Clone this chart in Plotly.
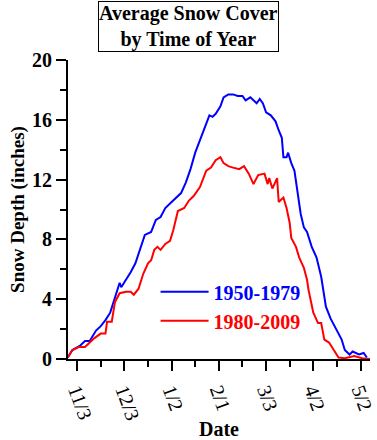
import plotly.graph_objects as go

# Days counted from Nov 3
blue_days = [-6, -3, 2, 5, 8, 12, 15, 18, 21, 24, 27, 28, 31, 34, 37, 40, 43, 47, 50, 53, 56, 59, 63, 66, 69, 72, 75, 78,
             82, 84, 86, 88, 91, 93, 96, 99, 102, 105, 107, 110, 114, 116, 118, 120, 123, 126, 128, 130, 131, 133, 134,
             136, 138, 139, 140, 142, 144, 146, 149, 152, 155, 158, 161, 165, 168, 170, 173, 175, 179, 182, 184]
blue_vals = [0.1, 0.6, 0.9, 1.2, 1.2, 1.9, 2.2, 2.6, 3.1, 4.1, 5.1, 4.8, 5.3, 5.8, 6.4, 7.3, 8.3, 8.5, 9.3, 9.5, 10.1, 10.4,
             10.8, 11.1, 11.8, 12.7, 13.8, 14.6,
             15.7, 16.3, 16.2, 16.4, 16.9, 17.5, 17.7, 17.7, 17.6, 17.6, 17.3, 17.5, 17.1, 17.4, 17.1, 16.5, 16.3, 15.9,
             15.3, 14.8, 13.5, 13.5, 13.8,
             13.1, 12.6, 11.9, 11.1, 9.7, 8.8, 8.5, 7.5, 6.8, 5.5, 3.5, 2.7, 1.9, 1.3, 0.6, 0.3, 0.5, 0.3, 0.4, 0.1]

red_days = [-6, -3, 1, 5, 8, 11, 15, 18, 19, 22, 24, 27, 31, 34, 36, 39, 42, 45, 47, 49, 51, 53, 56, 59, 61, 64, 68, 71,
            74, 77, 78, 82, 85, 88, 91, 93, 96, 99, 103, 106, 109, 112, 115, 119, 121, 122, 124, 127, 128, 131, 133,
            135, 136, 139, 141, 144, 146, 147, 150, 153, 155, 157, 160, 163, 166, 170, 176, 181, 186]
red_vals = [0.1, 0.6, 0.8, 0.8, 1.1, 1.4, 1.7, 1.7, 2.5, 2.5, 3.8, 4.4, 4.5, 4.5, 4.3, 4.7, 5.7, 6.4, 6.6, 7.3, 7.5, 7.3,
            7.7, 7.9, 8.6, 9.9, 10.1, 10.6,
            10.9, 11.4, 11.5, 12.6, 12.8, 13.3, 13.5, 13.1, 12.9, 12.8, 12.7, 12.9, 12.4, 11.7, 12.3, 12.4, 11.7, 12.1,
            11.4, 12.1, 10.5, 10.8, 10.1,
            9.1, 8.1, 7.5, 6.8, 6.1, 5.3, 4.6, 3.1, 2.4, 2.4, 1.3, 1.1, 0.6, 0.1, 0.05, 0.2, 0.05, 0.0]

tick_days = [0, 30, 60, 90, 120, 150, 180]
tick_labels = ["11/3", "12/3", "1/2", "2/1", "3/3", "4/2", "5/2"]
minor_days = [15, 45, 75, 105, 135, 165]

y_ticks = [0, 4, 8, 12, 16, 20]
y_minor = [2, 6, 10, 14, 18]

series_names = ["1950-1979", "1980-2009"]
series_colors = ["#0000ff", "#ff0000"]

SERIF = "Liberation Serif, Times New Roman, serif"

fig = go.Figure()
for days, vals, name, col in [(blue_days, blue_vals, series_names[0], series_colors[0]),
                              (red_days, red_vals, series_names[1], series_colors[1])]:
    fig.add_trace(go.Scatter(
        x=days, y=vals, mode="lines",
        line=dict(color=col, width=2),
        name=f'<span style="color:{col}"><b>{name}</b></span>',
        hoverinfo="skip",
    ))

fig.update_layout(
    width=377, height=440,
    margin=dict(l=68, r=7, t=60, b=81, autoexpand=False),
    paper_bgcolor="white", plot_bgcolor="white",
    font=dict(family=SERIF, color="black"),
    showlegend=True,
    legend=dict(
        x=0.29, y=0.29, xanchor="left", yanchor="top",
        bgcolor="rgba(0,0,0,0)", borderwidth=0,
        font=dict(family=SERIF, size=20),
        itemwidth=48, tracegroupgap=0,
    ),
    xaxis=dict(
        range=[-5.8, 186], automargin=False,
        tickmode="array", tickvals=tick_days, ticktext=tick_labels,
        tickangle=70,
        ticks="outside", ticklen=10, tickwidth=2, tickcolor="black",
        minor=dict(ticks="outside", ticklen=6, tickwidth=2, tickcolor="black",
                   tickmode="array", tickvals=minor_days),
        showline=True, linecolor="black", linewidth=2,
        showgrid=False, zeroline=False,
        tickfont=dict(family=SERIF, size=20, color="black"),
        title=dict(text="<b>Date</b>", font=dict(family=SERIF, size=20), standoff=0),
    ),
    yaxis=dict(
        range=[0, 20], automargin=False,
        tickmode="array", tickvals=y_ticks,
        ticktext=[f"<b>{v}</b>" for v in y_ticks],
        ticks="outside", ticklen=10, tickwidth=2, tickcolor="black",
        minor=dict(ticks="outside", ticklen=6, tickwidth=2, tickcolor="black",
                   tickmode="array", tickvals=y_minor),
        showline=True, linecolor="black", linewidth=2,
        showgrid=False, zeroline=False,
        tickfont=dict(family=SERIF, size=20, color="black"),
        title=dict(text="<b>Snow Depth (inches)</b>", font=dict(family=SERIF, size=19), standoff=2),
    ),
    annotations=[dict(
        text="<b>Average Snow Cover<br>by Time of Year</b>",
        xref="paper", yref="paper", x=0.4, y=1.0, yshift=59,
        xanchor="center", yanchor="top", showarrow=False,
        font=dict(family=SERIF, size=20, color="black"),
        bordercolor="black", borderwidth=1, borderpad=0,
        bgcolor="white",
    )],
)

fig.write_html("out.html", config={"displayModeBar": False, "staticPlot": True},
               post_script="document.body.style.margin='0px';document.body.style.padding='0px';")
